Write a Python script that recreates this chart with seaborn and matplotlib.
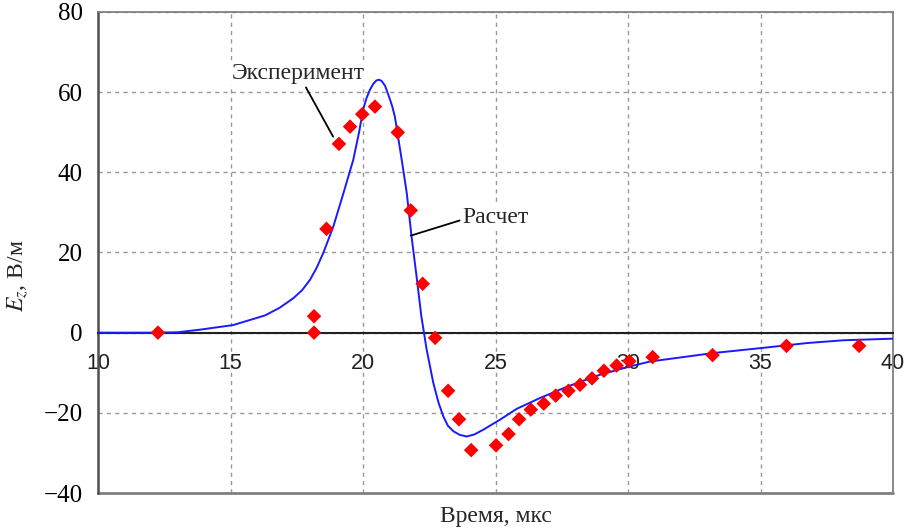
import matplotlib
matplotlib.use("Agg")
import matplotlib.pyplot as plt
import seaborn as sns
import pandas as pd

# ---- data ----
# calculated curve (Расчет)
t_calc = [10, 12, 13, 13.85, 15.1, 16.3, 16.85, 17.37, 17.7, 18.0, 18.25, 18.5,
          18.88, 19.26, 19.63, 19.85, 20.0, 20.13, 20.26, 20.39, 20.5, 20.6, 20.7,
          20.83, 21.0, 21.1, 21.2, 21.46, 21.65, 21.83, 22.02, 22.2, 22.4, 22.65,
          22.85, 23.03, 23.2, 23.41, 23.65, 23.91, 24.2, 24.54, 25.17, 25.8, 26.68,
          27.69, 28.94, 30.08, 30.83, 33.2, 35.08, 36.74, 38.12, 40.0]
E_calc = [0, 0, 0.1, 0.75, 1.9, 4.3, 6.2, 8.6, 10.6, 13.2, 16.2, 19.9,
          26.5, 34.8, 43.1, 50.0, 55.6, 58.5, 60.6, 62.1, 62.9, 63.1, 62.8,
          61.6, 58.5, 56.5, 53.9, 43.1, 34.8, 24.0, 14.0, 4.1, -4.2, -12.5,
          -17.5, -20.9, -23.2, -24.6, -25.5, -25.9, -25.4, -24.2, -21.7, -19.0, -16.3,
          -13.5, -10.5, -8.4, -7.2, -5.1, -3.8, -2.6, -1.9, -1.5]

# experimental points (Эксперимент)
t_exp = [12.26, 18.15, 18.15, 18.62, 19.09, 19.51, 19.97, 20.45, 21.31, 21.80,
         22.25, 22.72, 23.21, 23.62, 24.08, 25.02, 25.49, 25.89, 26.33, 26.82,
         27.27, 27.75, 28.19, 28.64, 29.09, 29.57, 30.05, 30.93, 33.19, 35.98, 38.72]
E_exp = [0, 0, 4.1, 25.9, 47.1, 51.4, 54.5, 56.4, 49.95, 30.5,
         12.2, -1.3, -14.5, -21.6, -29.3, -28.1, -25.3, -21.6, -19.2, -17.7,
         -15.7, -14.5, -13.0, -11.4, -9.5, -8.2, -7.1, -6.1, -5.6, -3.3, -3.3]

x_ticks = [10, 15, 20, 25, 30, 35, 40]
y_ticks = [-40, -20, 0, 20, 40, 60, 80]

df_calc = pd.DataFrame({'t': t_calc, 'E': E_calc})
df_exp = pd.DataFrame({'t': t_exp, 'E': E_exp})

# ---- style ----
sns.set_style("white")
plt.rcParams['font.family'] = ['Liberation Serif', 'DejaVu Serif']
plt.rcParams['mathtext.fontset'] = 'stix'

fig = plt.figure(figsize=(9.08, 5.30), dpi=100)
ax = fig.add_axes([0.108, 0.0698, 0.8755, 0.9076])

sns.lineplot(data=df_calc, x='t', y='E', ax=ax, color='#1a1aff', lw=1.4,
             zorder=3, sort=True, estimator=None)
sns.scatterplot(data=df_exp, x='t', y='E', ax=ax, marker='D', color='#ff0000',
                s=55, edgecolor='none', zorder=4, clip_on=False)

ax.set_xlim(10, 40)
ax.set_ylim(-40, 80)
ax.set_xticks(x_ticks)
ax.set_yticks(y_ticks)
ax.set_yticklabels([str(v).replace('-', '\u2212') for v in y_ticks])

# grid
ax.grid(True, color='#999999', linestyle=(0, (3, 3)), linewidth=1.0)
ax.set_axisbelow(True)

# axes / frame
ax.spines['bottom'].set_position(('data', 0))
ax.spines['bottom'].set_color('#202020')
ax.spines['bottom'].set_linewidth(1.5)
ax.spines['left'].set_color('#505050')
ax.spines['left'].set_linewidth(1.8)
ax.spines['top'].set_color('#808080')
ax.spines['top'].set_linewidth(1.3)
ax.spines['right'].set_color('#808080')
ax.spines['right'].set_linewidth(1.3)
ax.axhline(-40, color='#808080', lw=2.0, clip_on=False, zorder=2.5)

ax.tick_params(axis='x', direction='out', length=5.5, width=1.2, pad=9,
               colors='#202020', labelsize=15.5)
ax.tick_params(axis='y', direction='out', length=4, width=1.2, pad=7,
               colors='#404040', labelsize=18, labelcolor='black')
for lbl in ax.get_xticklabels():
    lbl.set_fontfamily(['Liberation Sans', 'DejaVu Sans'])

ax.set_xlabel('Время, мкс', fontsize=17)
ax.set_ylabel(r'$E_z$, В/м', fontsize=17)
ax.xaxis.set_label_coords(0.5, -0.026)
ax.yaxis.set_label_coords(-0.084, 0.451)

# annotations
ax.annotate('Эксперимент', xy=(18.87, 48.9), xytext=(17.55, 64.7),
            ha='center', va='center', fontsize=17,
            bbox=dict(boxstyle='square,pad=0.05', fc='white', ec='none'),
            arrowprops=dict(arrowstyle='-', color='black', lw=1.3,
                            shrinkA=2, shrinkB=0), zorder=5)
ax.annotate('Расчет', xy=(21.8, 24.2), xytext=(23.74, 28.7),
            ha='left', va='center', fontsize=17,
            bbox=dict(boxstyle='square,pad=0.05', fc='white', ec='none'),
            arrowprops=dict(arrowstyle='-', color='black', lw=1.3,
                            shrinkA=1, shrinkB=0, relpos=(0, 0.4)), zorder=5)

plt.savefig('out.png', dpi=100)
